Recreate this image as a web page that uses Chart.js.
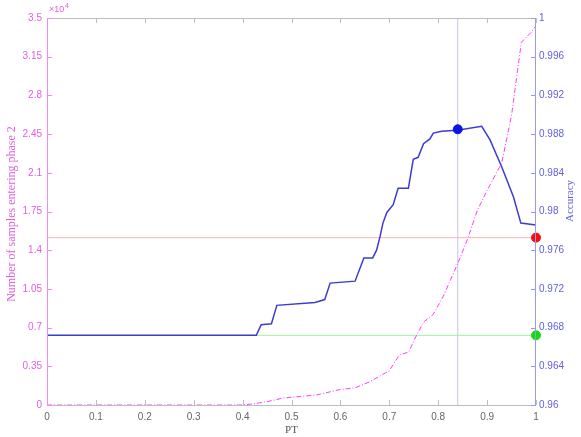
<!DOCTYPE html>
<html>
<head>
<meta charset="utf-8">
<script src="https://cdn.jsdelivr.net/npm/chart.js@4.4.0/dist/chart.umd.min.js"></script>
<style>
  html, body { margin: 0; padding: 0; background: #fff; }
  #wrap { width: 581px; height: 437px; }
</style>
</head>
<body>
<div id="wrap"><canvas id="ptChart" width="581" height="437"></canvas></div>
<script>
// accuracy against PT (right axis)
const accPT = [0, 0.428, 0.438, 0.459, 0.47, 0.548, 0.568, 0.579, 0.63, 0.648, 0.666, 0.674, 0.681,
  0.687, 0.695, 0.708, 0.718, 0.739, 0.749, 0.759, 0.770, 0.783, 0.790, 0.807, 0.839, 0.889,
  0.906, 0.930, 0.954, 0.969, 1.0];
const accValues = [0.9672, 0.9672, 0.9683, 0.9684, 0.9703, 0.9706, 0.9709, 0.9726, 0.9728, 0.9752,
  0.9752, 0.9760, 0.9774, 0.9788, 0.9799, 0.9807, 0.9824, 0.9824, 0.9854, 0.9856, 0.9870, 0.9875,
  0.9881, 0.9883, 0.9884, 0.9888, 0.9874, 0.9846, 0.9815, 0.9788, 0.9786];

// samples entering phase 2 against PT (left axis)
const samplePT = [0, 0.40, 0.42, 0.45, 0.48, 0.5, 0.55, 0.58, 0.6, 0.63, 0.66, 0.7, 0.72, 0.74,
  0.75, 0.77, 0.79, 0.81, 0.84, 0.86, 0.88, 0.9, 0.93, 0.95, 0.96, 0.97, 0.99, 1.0];
const sampleCounts = [0, 0, 100, 300, 600, 700, 900, 1200, 1400, 1550, 2100, 3100, 4500, 4800,
  5800, 7500, 8200, 9800, 12800, 15000, 17600, 19400, 21900, 26200, 29500, 32800, 33700, 34300];

// chosen threshold and reference accuracies
const chosenPT = 0.84;
const chosenAcc = 0.9885;
const redAcc = 0.9773;
const greenAcc = 0.9672;

const toXY = (xs, ys) => xs.map((x, i) => ({ x: x, y: ys[i] }));
const trim = (v, d) => String(parseFloat(v.toFixed(d)));

// MATLAB style box, inward ticks and axis titles
const axisDecor = {
  id: 'axisDecor',
  afterDraw(chart) {
    const { ctx, chartArea: a, scales } = chart;
    const seg = (x1, y1, x2, y2) => { ctx.beginPath(); ctx.moveTo(x1, y1); ctx.lineTo(x2, y2); ctx.stroke(); };
    ctx.save();
    ctx.lineWidth = 1;

    ctx.strokeStyle = '#bdbdbd';
    seg(a.left, a.top + 0.5, a.right, a.top + 0.5);
    seg(a.left, a.bottom + 0.5, a.right, a.bottom + 0.5);
    scales.x.ticks.forEach(t => {
      const px = Math.round(scales.x.getPixelForValue(t.value)) + 0.5;
      seg(px, a.bottom, px, a.bottom - 5);
      seg(px, a.top, px, a.top + 5);
    });

    ctx.strokeStyle = '#f08cf0';
    seg(a.left + 0.5, a.top, a.left + 0.5, a.bottom);
    scales.yL.ticks.forEach(t => {
      const py = Math.round(scales.yL.getPixelForValue(t.value)) + 0.5;
      seg(a.left, py, a.left + 5, py);
    });

    ctx.strokeStyle = '#9a9ae6';
    seg(a.right - 0.5, a.top, a.right - 0.5, a.bottom);
    scales.yR.ticks.forEach(t => {
      const py = Math.round(scales.yR.getPixelForValue(t.value)) + 0.5;
      seg(a.right, py, a.right - 5, py);
    });

    ctx.textAlign = 'center';
    ctx.textBaseline = 'middle';
    ctx.font = '11px "Liberation Serif"';
    ctx.fillStyle = '#555';
    ctx.fillText('PT', (a.left + a.right) / 2, 430);

    ctx.save();
    ctx.translate(12, 214);
    ctx.rotate(-Math.PI / 2);
    ctx.font = '12px "Liberation Serif"';
    ctx.fillStyle = '#e060e0';
    ctx.fillText('Number of samples entering phase 2', 0, 0);
    ctx.restore();

    ctx.save();
    ctx.translate(570, 201);
    ctx.rotate(-Math.PI / 2);
    ctx.fillStyle = '#6060e0';
    ctx.fillText('Accuracy', 0, 0);
    ctx.restore();

    ctx.textAlign = 'left';
    ctx.fillStyle = '#e060e0';
    ctx.font = '9px "Liberation Sans"';
    ctx.fillText('\u00d710', a.left + 2, 10);
    ctx.font = '7px "Liberation Sans"';
    ctx.fillText('4', a.left + 18, 6);
    ctx.restore();
  }
};

const ctx = document.getElementById('ptChart').getContext('2d');
new Chart(ctx, {
  type: 'line',
  data: {
    datasets: [
      { data: [{ x: chosenPT, y: chosenAcc }], yAxisID: 'yR', showLine: false, pointRadius: 4.5,
        pointBackgroundColor: '#0a14e8', pointBorderColor: '#0a14e8', clip: false },
      { data: [{ x: 1, y: redAcc }], yAxisID: 'yR', showLine: false, pointRadius: 4.5,
        pointBackgroundColor: '#f01010', pointBorderColor: '#f01010', clip: false },
      { data: [{ x: 1, y: greenAcc }], yAxisID: 'yR', showLine: false, pointRadius: 4.5,
        pointBackgroundColor: '#10dc10', pointBorderColor: '#10dc10', clip: false },
      { data: toXY(accPT, accValues), yAxisID: 'yR', borderColor: '#3c3cd0', borderWidth: 1.5,
        pointRadius: 0, tension: 0 },
      { data: toXY(samplePT, sampleCounts), yAxisID: 'yL', borderColor: '#ff3cff', borderWidth: 1,
        borderDash: [5, 2, 1, 2], pointRadius: 0, tension: 0 },
      { data: [{ x: 0, y: redAcc }, { x: 1, y: redAcc }], yAxisID: 'yR', borderColor: '#ffb4b4',
        borderWidth: 1, pointRadius: 0 },
      { data: [{ x: 0, y: greenAcc }, { x: 1, y: greenAcc }], yAxisID: 'yR', borderColor: '#a8eca8',
        borderWidth: 1, pointRadius: 0 },
      { data: [{ x: chosenPT, y: 0.96 }, { x: chosenPT, y: 1 }], yAxisID: 'yR', borderColor: '#c4c4e4',
        borderWidth: 1, pointRadius: 0 }
    ]
  },
  options: {
    responsive: false,
    animation: false,
    layout: { padding: { top: 18, left: 0, right: 0, bottom: 0 } },
    plugins: { legend: { display: false }, tooltip: { enabled: false } },
    scales: {
      x: {
        type: 'linear', min: 0, max: 1,
        grid: { display: false, drawTicks: false }, border: { display: false },
        ticks: { stepSize: 0.1, autoSkip: false, maxRotation: 0, padding: 6, color: '#666',
          font: { family: 'Liberation Sans', size: 10 }, callback: v => trim(v, 1) },
        afterFit: s => { s.height = 32; }
      },
      yL: {
        type: 'linear', position: 'left', min: 0, max: 35000,
        grid: { display: false, drawTicks: false }, border: { display: false },
        ticks: { stepSize: 3500, autoSkip: false, padding: 5, color: '#e060e0',
          font: { family: 'Liberation Sans', size: 10 }, callback: v => trim(v / 10000, 2) },
        afterFit: s => { s.width = 47; }
      },
      yR: {
        type: 'linear', position: 'right', min: 0.96, max: 1,
        grid: { display: false, drawTicks: false }, border: { display: false },
        ticks: { stepSize: 0.004, autoSkip: false, padding: 3, color: '#6060e0',
          font: { family: 'Liberation Sans', size: 10 }, callback: v => trim(v, 3) },
        afterFit: s => { s.width = 45; }
      }
    }
  },
  plugins: [axisDecor]
});
</script>
</body>
</html>
